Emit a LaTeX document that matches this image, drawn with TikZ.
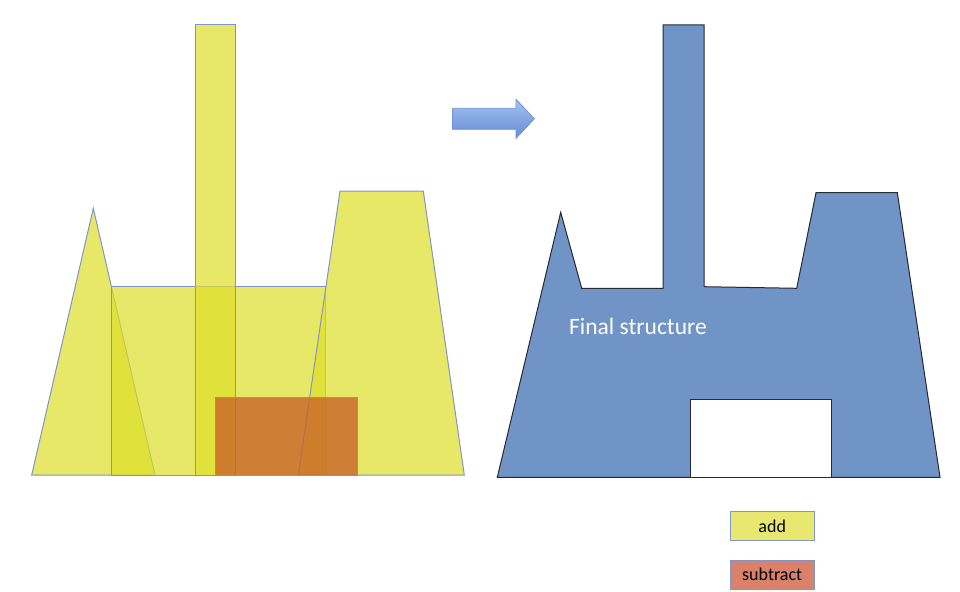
\documentclass[tikz,border=0pt]{standalone}
\usepackage{fontspec}
\setmainfont{Carlito}
\definecolor{addfill}{RGB}{222,222,40}
\definecolor{cutfill}{RGB}{200,100,40}
\definecolor{edgeblue}{RGB}{128,150,200}
\definecolor{finalblue}{RGB}{113,148,198}
\definecolor{darkedge}{RGB}{40,40,50}
\definecolor{addkey}{RGB}{232,232,112}
\definecolor{cutkey}{RGB}{217,129,107}
\definecolor{arrowtop}{RGB}{165,193,240}
\definecolor{arrowbot}{RGB}{100,140,212}
\definecolor{arrowedge}{RGB}{110,145,205}
\begin{document}
\begin{tikzpicture}[x=1pt, y=-1pt,
    part/.style={draw=edgeblue, line width=1pt, fill=addfill, fill opacity=0.7},
    cut/.style={draw=edgeblue, line width=1pt, fill=cutfill, fill opacity=0.8},
    whole/.style={draw=darkedge, line width=1pt, fill=finalblue},
    legend/.style={rectangle, draw=edgeblue, line width=1pt, minimum width=84pt, minimum height=29pt, font=\fontsize{18}{20}\selectfont}
]
\useasboundingbox (0,0) rectangle (960,591);

% parts to add
\draw[part] (31.7,475) -- (93.3,208.3) -- (155,475) -- cycle;
\draw[part] (111.7,286.7) rectangle (325,475);
\draw[part] (195.7,25) rectangle (235,475);
\draw[part] (298.3,475) -- (340,191) -- (423.3,191) -- (464.3,475) -- cycle;

% part to subtract
\draw[cut] (215,397.7) rectangle (357.3,475);

% arrow
\shade[top color=arrowtop, bottom color=arrowbot, draw=arrowedge, line width=0.8pt]
  (452.7,108.3) -- (516,108.3) -- (516,99.3) -- (534.3,118.8) -- (516,138.3) -- (516,129.3) -- (452.7,129.3) -- cycle;

% final structure
\draw[whole] (497.3,477.3) -- (560.7,212.3) -- (581.7,288.3) -- (663,288.3) -- (663,25) -- (704,25)
  -- (704,286.7) -- (796.7,288.3) -- (816,192.7) -- (897.3,192.7) -- (940,477.3) -- cycle;
\draw[draw=darkedge, line width=1pt, fill=white] (690,399) rectangle (831.7,477.3);
\node[anchor=west, text=white, inner sep=0pt, font=\fontsize{23.5}{26}\selectfont] (final) at (569,326.7) {Final structure};

% legend
\node[legend, fill=addkey] (add) at (772.2,526.2) {add};
\node[legend, fill=cutkey] (subtract) at (772.2,574.7) {subtract};

\end{tikzpicture}
\end{document}
